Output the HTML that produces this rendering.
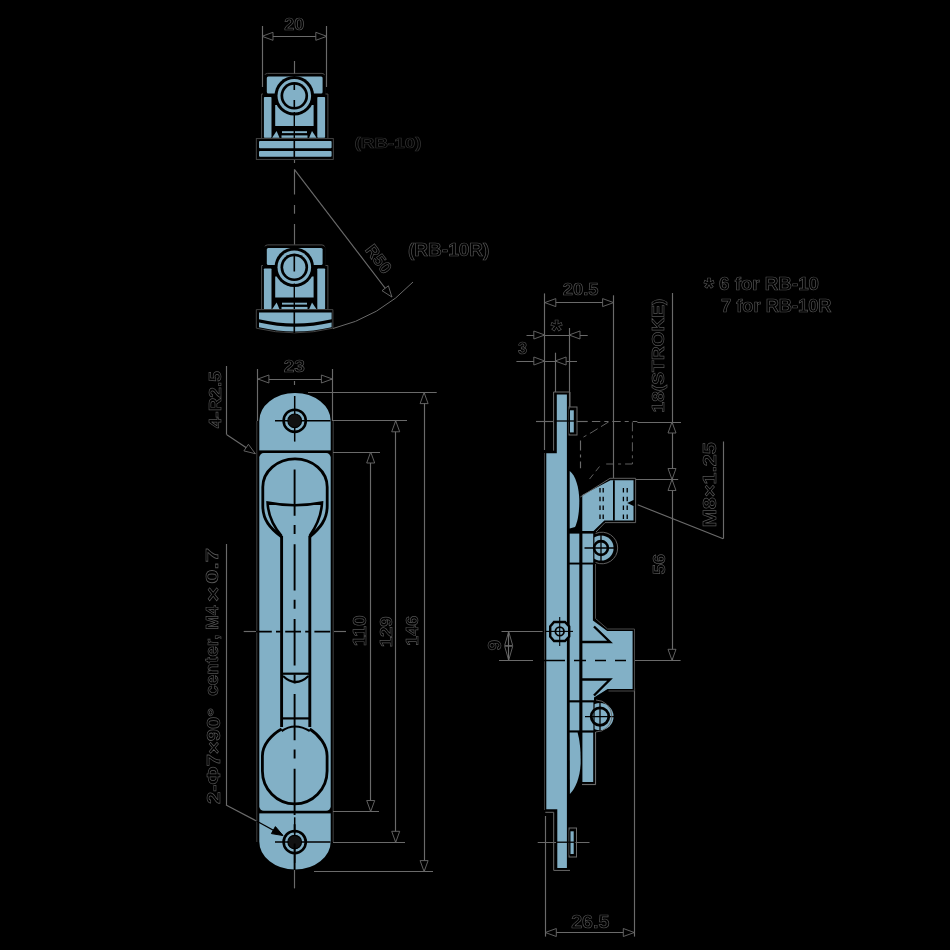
<!DOCTYPE html>
<html><head><meta charset="utf-8"><style>
html,body{margin:0;padding:0;background:#000;}
svg{display:block;will-change:transform;}
text{font-family:"Liberation Sans",sans-serif;} .t{font-weight:bold;fill:#000;stroke:#555;stroke-width:0.65px;}
</style></head><body>
<svg width="950" height="950" viewBox="0 0 950 950">
<rect width="950" height="950" fill="#000"/>
<path d="M261.6,138 V94 H264.7 V76 Q264.7,73.4 267.5,73.4 H322 Q324.7,73.4 324.7,76 V94 H327.9 V138" fill="none" stroke="#4a4a4a" stroke-width="1" />
<rect x="263" y="74.8" width="62.5" height="64" rx="2" fill="#000"/>
<rect x="266.8" y="76.6" width="55.8" height="17" rx="1.5" fill="#82b0c6"/>
<rect x="263.9" y="97" width="7.6" height="40.8" rx="0.8" fill="#82b0c6"/>
<rect x="317.3" y="97" width="7.8" height="40.8" rx="0.8" fill="#82b0c6"/>
<rect x="275.2" y="105" width="38.4" height="21" rx="0" fill="#82b0c6"/>
<polygon points="272.1,137.8 279.5,137.8 276.6,131" fill="#82b0c6"/>
<polygon points="309.1,137.8 316.5,137.8 312,131" fill="#82b0c6"/>
<rect x="282" y="131.2" width="25" height="1.9" rx="0" fill="#82b0c6"/>
<rect x="281.5" y="135.4" width="26" height="2.4" rx="0" fill="#82b0c6"/>
<circle cx="294.3" cy="95.8" r="19.8" fill="#000"/>
<circle cx="294.3" cy="95.8" r="16.8" fill="#82b0c6"/>
<circle cx="294.3" cy="95.8" r="13.8" fill="#000"/>
<circle cx="294.3" cy="95.8" r="11.1" fill="#82b0c6"/>
<line x1="294.3" y1="83" x2="294.3" y2="90" stroke="#000" stroke-width="1.6"/>
<line x1="294.3" y1="100" x2="294.3" y2="107" stroke="#000" stroke-width="1.6"/>
<line x1="294.3" y1="112" x2="294.3" y2="138" stroke="#000" stroke-width="1.4"/>
<rect x="256.3" y="138.6" width="77" height="20.8" rx="0" fill="#000" stroke="#4a4a4a" stroke-width="0.9"/>
<rect x="259" y="140.9" width="72.6" height="7.3" rx="1" fill="#82b0c6"/>
<rect x="259" y="150.9" width="72.6" height="5.8" rx="1" fill="#82b0c6"/>
<line x1="294.3" y1="139" x2="294.3" y2="158" stroke="#000" stroke-width="1.6"/>
<path d="M261.6,309.5 V265.5 H264.7 V247.5 Q264.7,244.9 267.5,244.9 H322 Q324.7,244.9 324.7,247.5 V265.5 H327.9 V309.5" fill="none" stroke="#4a4a4a" stroke-width="1" />
<rect x="263" y="246.3" width="62.5" height="64" rx="2" fill="#000"/>
<rect x="266.8" y="248.1" width="55.8" height="17" rx="1.5" fill="#82b0c6"/>
<rect x="263.9" y="268.5" width="7.6" height="40.8" rx="0.8" fill="#82b0c6"/>
<rect x="317.3" y="268.5" width="7.8" height="40.8" rx="0.8" fill="#82b0c6"/>
<rect x="275.2" y="276.5" width="38.4" height="21" rx="0" fill="#82b0c6"/>
<polygon points="272.1,309.3 279.5,309.3 276.6,302.5" fill="#82b0c6"/>
<polygon points="309.1,309.3 316.5,309.3 312,302.5" fill="#82b0c6"/>
<rect x="282" y="302.7" width="25" height="1.9" rx="0" fill="#82b0c6"/>
<rect x="281.5" y="306.9" width="26" height="2.4" rx="0" fill="#82b0c6"/>
<circle cx="294.3" cy="267.3" r="19.8" fill="#000"/>
<circle cx="294.3" cy="267.3" r="16.8" fill="#82b0c6"/>
<circle cx="294.3" cy="267.3" r="13.8" fill="#000"/>
<circle cx="294.3" cy="267.3" r="11.1" fill="#82b0c6"/>
<line x1="294.3" y1="255.5" x2="294.3" y2="271.5" stroke="#000" stroke-width="1.6"/>
<line x1="294.3" y1="283.5" x2="294.3" y2="309.5" stroke="#000" stroke-width="1.4"/>
<path d="M256.3,309.6 H332.9 V328.2 A163,163 0 0,1 256.3,328.2 Z" fill="#000" stroke="#4a4a4a" stroke-width="0.9" />
<path d="M259,312.4 H331.6 V319.2 Q295.3,327.6 259,319.2 Z" fill="#82b0c6" />
<path d="M259,322.6 Q295.3,331 331.6,322.6 V327.2 Q295.3,335.6 259,327.2 Z" fill="#82b0c6" />
<line x1="294.3" y1="310" x2="294.3" y2="333" stroke="#000" stroke-width="1.6"/>
<line x1="262.5" y1="26" x2="262.5" y2="87" stroke="#6a6a6a" stroke-width="1.15"/>
<line x1="326.5" y1="26" x2="326.5" y2="87" stroke="#6a6a6a" stroke-width="1.15"/>
<line x1="262" y1="36.5" x2="326.8" y2="36.5" stroke="#6a6a6a" stroke-width="1.15"/>
<polygon points="262.0,36.3 273.0,32.3 273.0,40.3" fill="#000" stroke="#6a6a6a" stroke-width="0.9"/>
<polygon points="326.8,36.3 315.8,40.3 315.8,32.3" fill="#000" stroke="#6a6a6a" stroke-width="0.9"/>
<line x1="294.5" y1="61" x2="294.5" y2="73.5" stroke="#6a6a6a" stroke-width="1.15"/>
<line x1="294.5" y1="160" x2="294.5" y2="163" stroke="#6a6a6a" stroke-width="1.15"/>
<line x1="294.5" y1="169.2" x2="294.5" y2="244.5" stroke="#6a6a6a" stroke-width="1.15" stroke-dasharray="25.3 10.5 8.7 10.3 40"/>
<line x1="294.7" y1="169.8" x2="391.9" y2="297" stroke="#6a6a6a" stroke-width="1.15"/>
<polygon points="391.9,297.0 382.0,290.7 388.4,285.8" fill="#000" stroke="#6a6a6a" stroke-width="0.9"/>
<path d="M413,282 A163,163 0 0,1 333,328.5" fill="none" stroke="#6a6a6a" stroke-width="1" />
<text x="0" y="0" font-size="17" text-anchor="middle" class="t" transform="translate(374,262.5) rotate(52.6)">R50</text>
<path d="M258.2,421 A36.6,29 0 0,1 331.8,421 V841.5 A36.6,29 0 0,1 258.2,841.5 Z" fill="#82b0c6" stroke="#000" stroke-width="2.2" />
<line x1="256.8" y1="421" x2="256.8" y2="842" stroke="#3e3e3e" stroke-width="1"/>
<line x1="333.2" y1="421" x2="333.2" y2="842" stroke="#3e3e3e" stroke-width="1"/>
<rect x="258.2" y="450.4" width="73.6" height="363" rx="0" fill="#000"/>
<rect x="259.3" y="453.1" width="71.4" height="357.6" rx="4.5" fill="#82b0c6"/>
<line x1="275" y1="420.8" x2="330.5" y2="420.8" stroke="#000" stroke-width="1.5"/>
<line x1="294.7" y1="396.0" x2="294.7" y2="441.6" stroke="#000" stroke-width="1.5"/>
<circle cx="294.7" cy="420.8" r="11.1" fill="none" stroke="#000" stroke-width="2.6"/>
<circle cx="294.7" cy="420.8" r="6.8" fill="#111" stroke="#000" stroke-width="1.2"/>
<line x1="275" y1="842.1" x2="330.5" y2="842.1" stroke="#000" stroke-width="1.5"/>
<line x1="294.7" y1="817.3000000000001" x2="294.7" y2="862.9" stroke="#000" stroke-width="1.5"/>
<circle cx="294.7" cy="842.1" r="11.1" fill="none" stroke="#000" stroke-width="2.6"/>
<circle cx="294.7" cy="842.1" r="6.8" fill="#111" stroke="#000" stroke-width="1.2"/>
<path d="M281.6,537 C270,528 262.8,520 262.8,506 V487 A32,28 0 0,1 327.2,487 V506 C327.2,520 320,528 309.6,537" fill="none" stroke="#000" stroke-width="2.8" />
<path d="M281.6,536 C274,527 268,516 267.6,502.5 Q294.7,508 322,502.5 C321.5,516 316,527 309.6,536" fill="none" stroke="#000" stroke-width="2.6" />
<line x1="281.6" y1="536" x2="281.6" y2="727" stroke="#000" stroke-width="2.9"/>
<line x1="309.8" y1="536" x2="309.8" y2="727" stroke="#000" stroke-width="2.9"/>
<line x1="281.6" y1="673.7" x2="309.8" y2="673.7" stroke="#000" stroke-width="2.2"/>
<path d="M283,676 Q295.7,688 308.5,676" fill="none" stroke="#000" stroke-width="2.2" />
<line x1="281.6" y1="718.4" x2="309.8" y2="718.4" stroke="#000" stroke-width="2.2"/>
<path d="M281.6,729 C271,735 262.4,745 262.4,756 V771 A32.35,33 0 0,0 327.1,771 V756 C327.1,745 319,735 309.8,729" fill="none" stroke="#000" stroke-width="2.8" />
<path d="M281.6,731 Q294.7,722 309.8,731" fill="none" stroke="#000" stroke-width="2.2" />
<line x1="294.6" y1="469.5" x2="294.6" y2="870" stroke="#000" stroke-width="1.9" stroke-dasharray="46.3 9.2 9 10.3"/>
<line x1="294.5" y1="870" x2="294.5" y2="888.4" stroke="#6a6a6a" stroke-width="1.15"/>
<line x1="294.5" y1="381" x2="294.5" y2="385" stroke="#6a6a6a" stroke-width="1.15"/>
<line x1="243.7" y1="631.5" x2="256" y2="631.5" stroke="#6a6a6a" stroke-width="1.15"/>
<line x1="256" y1="631.6" x2="334" y2="631.6" stroke="#000" stroke-width="1.6" stroke-dasharray="15.8 4.2 4.7 4.5"/>
<line x1="334" y1="631.5" x2="346" y2="631.5" stroke="#6a6a6a" stroke-width="1.15"/>
<line x1="257.5" y1="369" x2="257.5" y2="421" stroke="#6a6a6a" stroke-width="1.15"/>
<line x1="332.5" y1="369" x2="332.5" y2="421" stroke="#6a6a6a" stroke-width="1.15"/>
<line x1="257.9" y1="379.5" x2="332.4" y2="379.5" stroke="#6a6a6a" stroke-width="1.15"/>
<polygon points="257.9,379.0 268.9,375.0 268.9,383.0" fill="#000" stroke="#6a6a6a" stroke-width="0.9"/>
<polygon points="332.4,379.0 321.4,383.0 321.4,375.0" fill="#000" stroke="#6a6a6a" stroke-width="0.9"/>
<line x1="308" y1="392.5" x2="436.7" y2="392.5" stroke="#6a6a6a" stroke-width="1.15"/>
<line x1="333" y1="420.5" x2="407" y2="420.5" stroke="#6a6a6a" stroke-width="1.15"/>
<line x1="333" y1="452.5" x2="380" y2="452.5" stroke="#6a6a6a" stroke-width="1.15"/>
<line x1="333" y1="811.5" x2="379" y2="811.5" stroke="#6a6a6a" stroke-width="1.15"/>
<line x1="333" y1="842.5" x2="405" y2="842.5" stroke="#6a6a6a" stroke-width="1.15"/>
<line x1="314" y1="871.5" x2="433" y2="871.5" stroke="#6a6a6a" stroke-width="1.15"/>
<line x1="370.5" y1="452" x2="370.5" y2="811.5" stroke="#6a6a6a" stroke-width="1.15"/>
<polygon points="370.7,452.0 374.7,463.0 366.7,463.0" fill="#000" stroke="#6a6a6a" stroke-width="0.9"/>
<polygon points="370.7,811.5 366.7,800.5 374.7,800.5" fill="#000" stroke="#6a6a6a" stroke-width="0.9"/>
<line x1="395.5" y1="420.8" x2="395.5" y2="842.3" stroke="#6a6a6a" stroke-width="1.15"/>
<polygon points="395.7,420.8 399.7,431.8 391.7,431.8" fill="#000" stroke="#6a6a6a" stroke-width="0.9"/>
<polygon points="395.7,842.3 391.7,831.3 399.7,831.3" fill="#000" stroke="#6a6a6a" stroke-width="0.9"/>
<line x1="424.5" y1="392.6" x2="424.5" y2="871.6" stroke="#6a6a6a" stroke-width="1.15"/>
<polygon points="424.1,392.6 428.1,403.6 420.1,403.6" fill="#000" stroke="#6a6a6a" stroke-width="0.9"/>
<polygon points="424.1,871.6 420.1,860.6 428.1,860.6" fill="#000" stroke="#6a6a6a" stroke-width="0.9"/>
<line x1="226.5" y1="366" x2="226.5" y2="434.7" stroke="#6a6a6a" stroke-width="1.15"/>
<line x1="226.8" y1="434.7" x2="255.3" y2="453.7" stroke="#6a6a6a" stroke-width="1.15"/>
<polygon points="255.3,453.7 243.9,450.9 248.4,444.3" fill="#000" stroke="#6a6a6a" stroke-width="0.9"/>
<line x1="226.5" y1="544" x2="226.5" y2="805" stroke="#6a6a6a" stroke-width="1.15"/>
<line x1="226" y1="805" x2="256.5" y2="821" stroke="#6a6a6a" stroke-width="1.15"/>
<line x1="256.5" y1="821" x2="282" y2="835" stroke="#000" stroke-width="1.4"/>
<polygon points="283.0,835.5 271.4,833.6 275.4,826.6" fill="#000" stroke="#000" stroke-width="1"/>
<line x1="544.5" y1="293.4" x2="544.5" y2="450" stroke="#6a6a6a" stroke-width="1.15"/>
<line x1="613.5" y1="295.3" x2="613.5" y2="478" stroke="#6a6a6a" stroke-width="1.15"/>
<line x1="544.8" y1="302.5" x2="613.6" y2="302.5" stroke="#6a6a6a" stroke-width="1.15"/>
<polygon points="544.8,302.6 555.8,298.6 555.8,306.6" fill="#000" stroke="#6a6a6a" stroke-width="0.9"/>
<polygon points="613.6,302.6 602.6,306.6 602.6,298.6" fill="#000" stroke="#6a6a6a" stroke-width="0.9"/>
<line x1="526.5" y1="335.5" x2="587.7" y2="335.5" stroke="#6a6a6a" stroke-width="1.15"/>
<polygon points="544.8,335.0 533.8,339.0 533.8,331.0" fill="#000" stroke="#6a6a6a" stroke-width="0.9"/>
<polygon points="569.0,335.0 580.0,331.0 580.0,339.0" fill="#000" stroke="#6a6a6a" stroke-width="0.9"/>
<line x1="569.5" y1="328" x2="569.5" y2="407" stroke="#6a6a6a" stroke-width="1.15"/>
<line x1="516.4" y1="361.5" x2="577" y2="361.5" stroke="#6a6a6a" stroke-width="1.15"/>
<polygon points="544.8,361.0 533.8,365.0 533.8,357.0" fill="#000" stroke="#6a6a6a" stroke-width="0.9"/>
<polygon points="555.1,361.0 566.1,357.0 566.1,365.0" fill="#000" stroke="#6a6a6a" stroke-width="0.9"/>
<line x1="555.5" y1="352.7" x2="555.5" y2="392" stroke="#6a6a6a" stroke-width="1.15"/>
<line x1="536" y1="421.5" x2="553" y2="421.5" stroke="#6a6a6a" stroke-width="1.15"/>
<line x1="576.7" y1="421.5" x2="587.7" y2="421.5" stroke="#6a6a6a" stroke-width="1.15"/>
<line x1="591.9" y1="421.5" x2="637.4" y2="421.5" stroke="#6a6a6a" stroke-width="1.15" stroke-dasharray="8.4 4 4 4"/>
<line x1="637.4" y1="422.5" x2="681" y2="422.5" stroke="#6a6a6a" stroke-width="1.15"/>
<path d="M608.7,421.9 L591,432.8 L583.5,437" fill="none" stroke="#6a6a6a" stroke-width="0.9" stroke-dasharray="9 4"/>
<line x1="580.5" y1="440.4" x2="580.5" y2="468.2" stroke="#6a6a6a" stroke-width="1.15" stroke-dasharray="10 4 3 4"/>
<path d="M632.4,422.3 V464 H606.2" fill="none" stroke="#6a6a6a" stroke-width="0.9" stroke-dasharray="9 4 3 4"/>
<path d="M599.5,466.5 L588,481" fill="none" stroke="#6a6a6a" stroke-width="0.9" stroke-dasharray="6 4"/>
<line x1="672.5" y1="293" x2="672.5" y2="660.3" stroke="#6a6a6a" stroke-width="1.15"/>
<polygon points="672.0,422.0 676.0,433.0 668.0,433.0" fill="#000" stroke="#6a6a6a" stroke-width="0.9"/>
<polygon points="672.0,479.5 668.0,468.5 676.0,468.5" fill="#000" stroke="#6a6a6a" stroke-width="0.9"/>
<polygon points="672.0,479.5 676.0,490.5 668.0,490.5" fill="#000" stroke="#6a6a6a" stroke-width="0.9"/>
<polygon points="672.0,660.3 668.0,649.3 676.0,649.3" fill="#000" stroke="#6a6a6a" stroke-width="0.9"/>
<line x1="636" y1="479.5" x2="678.2" y2="479.5" stroke="#6a6a6a" stroke-width="1.15"/>
<line x1="723.5" y1="441.5" x2="723.5" y2="538.7" stroke="#6a6a6a" stroke-width="1.15"/>
<line x1="637.7" y1="504.8" x2="723.2" y2="538.7" stroke="#6a6a6a" stroke-width="1.15"/>
<line x1="501.5" y1="631.5" x2="542.6" y2="631.5" stroke="#6a6a6a" stroke-width="1.15"/>
<line x1="499" y1="660.5" x2="533" y2="660.5" stroke="#6a6a6a" stroke-width="1.15"/>
<polygon points="508.7,631.5 512.7,645.5 504.7,645.5" fill="#000" stroke="#6a6a6a" stroke-width="0.9"/>
<polygon points="508.7,660.3 504.7,646.3 512.7,646.3" fill="#000" stroke="#6a6a6a" stroke-width="0.9"/>
<line x1="508.5" y1="631.5" x2="508.5" y2="660.3" stroke="#6a6a6a" stroke-width="1.15"/>
<line x1="634.6" y1="660.5" x2="680.6" y2="660.5" stroke="#6a6a6a" stroke-width="1.15"/>
<line x1="545.5" y1="816" x2="545.5" y2="936.6" stroke="#6a6a6a" stroke-width="1.15"/>
<line x1="634.5" y1="688" x2="634.5" y2="936.6" stroke="#6a6a6a" stroke-width="1.15"/>
<line x1="545.3" y1="932.5" x2="634.3" y2="932.5" stroke="#6a6a6a" stroke-width="1.15"/>
<polygon points="545.3,932.5 556.3,928.5 556.3,936.5" fill="#000" stroke="#6a6a6a" stroke-width="0.9"/>
<polygon points="634.3,932.5 623.3,936.5 623.3,928.5" fill="#000" stroke="#6a6a6a" stroke-width="0.9"/>
<line x1="537.7" y1="842.5" x2="589.5" y2="842.5" stroke="#6a6a6a" stroke-width="1.15"/>
<path d="M553.6,450.7 V392 H570 V407" fill="none" stroke="#6a6a6a" stroke-width="1" />
<path d="M545.3,812.3 H553.7 V870.4 H570" fill="none" stroke="#6a6a6a" stroke-width="1" />
<rect x="569" y="407" width="8" height="28" rx="0" fill="none" stroke="#6a6a6a" stroke-width="1"/>
<rect x="569" y="828" width="7.5" height="29" rx="0" fill="none" stroke="#6a6a6a" stroke-width="1"/>
<line x1="595.5" y1="732" x2="595.5" y2="784.5" stroke="#6a6a6a" stroke-width="1.15"/>
<line x1="582" y1="784.5" x2="595.8" y2="784.5" stroke="#6a6a6a" stroke-width="1.15"/>
<path d="M569.7,533.6 H579.3 V562.6 H569.7 Z" fill="#82b0c6" stroke="#000" stroke-width="2.4" paint-order="stroke" stroke-linejoin="miter"/>
<path d="M569.7,564.6 H579.3 V700.2 H569.7 Z" fill="#82b0c6" stroke="#000" stroke-width="2.4" paint-order="stroke" stroke-linejoin="miter"/>
<path d="M569.7,702.4 H579.3 V730.4 H569.7 Z" fill="#82b0c6" stroke="#000" stroke-width="2.4" paint-order="stroke" stroke-linejoin="miter"/>
<path d="M569.7,732.6 H577.6 C580.2,742 580.8,752 580.6,764 C580,778 575,789 569.9,794 Z" fill="#82b0c6" stroke="#000" stroke-width="2.4" paint-order="stroke" stroke-linejoin="miter"/>
<path d="M569.7,471 C575.5,475 579.3,488 579.3,501 C579.3,513 577.6,522 575,527 L569.7,528.5 Z" fill="#82b0c6" stroke="#000" stroke-width="2.4" paint-order="stroke" stroke-linejoin="miter"/>
<circle cx="601" cy="548" r="12.6" fill="#82b0c6" stroke="#000" stroke-width="2" paint-order="stroke"/>
<circle cx="600" cy="716.6" r="13.6" fill="#82b0c6" stroke="#000" stroke-width="2" paint-order="stroke"/>
<path d="M582.4,533.6 H593.2 V562.6 H582.4 Z" fill="#82b0c6" stroke="#000" stroke-width="2.4" paint-order="stroke" stroke-linejoin="miter"/>
<path d="M582.4,564.6 H592.9 V620.5 L607.2,631 H632.6 V689 H607.6 L594,697.6 V700.2 H582.4 Z" fill="#82b0c6" stroke="#000" stroke-width="2.4" paint-order="stroke" stroke-linejoin="miter"/>
<path d="M595.5,564 V618.5 L607.5,629 H634.5 V691 H608.5" fill="none" stroke="#4a4a4a" stroke-width="1" />
<path d="M582.4,702.4 H593.4 V730.4 H582.4 Z" fill="#82b0c6" stroke="#000" stroke-width="2.4" paint-order="stroke" stroke-linejoin="miter"/>
<path d="M582.4,732.6 H593.2 V782 H582.4 Z" fill="#82b0c6" stroke="#000" stroke-width="2.4" paint-order="stroke" stroke-linejoin="miter"/>
<circle cx="601" cy="548" r="6.9" fill="none" stroke="#000" stroke-width="2.6"/>
<circle cx="600" cy="716.6" r="8.799999999999999" fill="none" stroke="#000" stroke-width="2.8"/>
<line x1="584.5" y1="548" x2="618.6" y2="548" stroke="#000" stroke-width="1.3"/>
<line x1="601" y1="534.5" x2="601" y2="566.7" stroke="#000" stroke-width="1.3"/>
<line x1="585" y1="716.6" x2="619" y2="716.6" stroke="#000" stroke-width="1.3"/>
<line x1="600" y1="702" x2="600" y2="732" stroke="#000" stroke-width="1.3"/>
<path d="M594,626.5 L610,642 H582" fill="none" stroke="#000" stroke-width="2.4" />
<path d="M582,679.5 H610 L594,695.5" fill="none" stroke="#000" stroke-width="2.4" />
<path d="M582.3,495 L610.5,480.2 H633.5 V500 L627.2,503 L633.5,506 V520.6 H604.4 L593.5,531 H582.3 Z" fill="#82b0c6" stroke="#000" stroke-width="2.4" paint-order="stroke" stroke-linejoin="miter"/>
<path d="M580.3,497 L610,478.3 H635.6 V522.6 H605 L596,532" fill="none" stroke="#6a6a6a" stroke-width="0.9" />
<line x1="613.9" y1="480.2" x2="613.9" y2="520.6" stroke="#000" stroke-width="1.8"/>
<line x1="600" y1="488" x2="600" y2="521" stroke="#000" stroke-width="1.3" stroke-dasharray="4.5 4.3"/>
<line x1="603.2" y1="488" x2="603.2" y2="521" stroke="#000" stroke-width="1.3" stroke-dasharray="4.5 4.3"/>
<line x1="623.4" y1="488" x2="623.4" y2="521" stroke="#000" stroke-width="1.3" stroke-dasharray="4.5 4.3"/>
<line x1="627.2" y1="488" x2="627.2" y2="521" stroke="#000" stroke-width="1.3" stroke-dasharray="4.5 4.3"/>
<path d="M595.6,533.5 A15.8,15.8 0 1,1 595.6,562.5" fill="none" stroke="#6a6a6a" stroke-width="0.9" />
<path d="M596,700 A15.8,15.8 0 1,1 595.6,732" fill="none" stroke="#6a6a6a" stroke-width="0.9" />
<path d="M556.8,394.5 H566.9 V868 H557.3 V809.2 H546.3 V453.3 H556.8 Z" fill="#82b0c6" stroke="#000" stroke-width="2.4" paint-order="stroke" stroke-linejoin="miter"/>
<line x1="544.5" y1="453" x2="544.5" y2="810" stroke="#3a3a3a" stroke-width="1"/>
<path d="M570,410.3 H573.8 V432.4 H570 Z" fill="#82b0c6" stroke="#000" stroke-width="2.2" paint-order="stroke" stroke-linejoin="miter"/>
<path d="M570.5,831.3 H573.7 V854 H570.5 Z" fill="#82b0c6" stroke="#000" stroke-width="2.2" paint-order="stroke" stroke-linejoin="miter"/>
<line x1="555" y1="421" x2="575.5" y2="421" stroke="#000" stroke-width="1.3"/>
<line x1="556" y1="842.2" x2="575.5" y2="842.2" stroke="#000" stroke-width="1.3"/>
<line x1="533" y1="660.5" x2="606" y2="660.5" stroke="#000" stroke-width="1.6" stroke-dasharray="32 9 12 9"/>
<line x1="606" y1="660.5" x2="631" y2="660.5" stroke="#000" stroke-width="1.6" stroke-dasharray="0 9 11 100"/>
<polygon points="554,622 565,622 569.2,626.5 569.2,636.5 565,641 554,641 550.2,636.5 550.2,626.5" fill="#82b0c6" stroke="#000" stroke-width="2.4"/>
<circle cx="559.7" cy="631.4" r="4.3" fill="none" stroke="#000" stroke-width="1.8"/>
<line x1="546" y1="631.4" x2="573" y2="631.4" stroke="#000" stroke-width="1.1"/>
<line x1="559.7" y1="617" x2="559.7" y2="646" stroke="#000" stroke-width="1.1"/>
<text x="294.2" y="30.2" font-size="15.79" text-anchor="middle" class="t" opacity="0.99" textLength="20.0" lengthAdjust="spacingAndGlyphs">20</text>
<text x="294.35" y="372.35" font-size="16.35" text-anchor="middle" class="t" opacity="0.99" textLength="21.2" lengthAdjust="spacingAndGlyphs">23</text>
<text x="388.0" y="147.6" font-size="14.32" text-anchor="middle" class="t" opacity="0.55" textLength="67.0" lengthAdjust="spacingAndGlyphs">(RB-10)</text>
<text x="448.7" y="256.2" font-size="17.88" text-anchor="middle" class="t" opacity="0.99" textLength="81.4" lengthAdjust="spacingAndGlyphs">(RB-10R)</text>
<text x="221.0" y="399.75" font-size="16.55" text-anchor="middle" class="t" opacity="0.99" transform="rotate(-90 221.0 399.75)" textLength="57.0" lengthAdjust="spacingAndGlyphs">4-R2.5</text>
<text x="219.5" y="756.0" font-size="17.5" text-anchor="middle" class="t" opacity="0.99" transform="rotate(-90 219.5 756.0)" textLength="96.0" lengthAdjust="spacingAndGlyphs">2-&#934;7&#215;90&#176;</text>
<text x="218.25" y="665.3" font-size="18.5" text-anchor="middle" class="t" opacity="0.99" transform="rotate(-90 218.25 665.3)" textLength="61.6" lengthAdjust="spacingAndGlyphs">center,</text>
<text x="218.5" y="617.65" font-size="16.55" text-anchor="middle" class="t" opacity="0.99" transform="rotate(-90 218.5 617.65)" textLength="24.2" lengthAdjust="spacingAndGlyphs">M4</text>
<text x="220.0" y="594.3" font-size="20.73" text-anchor="middle" class="t" opacity="0.99" transform="rotate(-90 220.0 594.3)" textLength="15.4" lengthAdjust="spacingAndGlyphs">&#215;</text>
<text x="218.5" y="565.85" font-size="16.55" text-anchor="middle" class="t" opacity="0.99" transform="rotate(-90 218.5 565.85)" textLength="35.8" lengthAdjust="spacingAndGlyphs">0.7</text>
<text x="366.0" y="630.8" font-size="19.0" text-anchor="middle" class="t" opacity="0.99" transform="rotate(-90 366.0 630.8)" textLength="31.0" lengthAdjust="spacingAndGlyphs">110</text>
<text x="392.0" y="631.8" font-size="16.55" text-anchor="middle" class="t" opacity="0.99" transform="rotate(-90 392.0 631.8)" textLength="31.0" lengthAdjust="spacingAndGlyphs">129</text>
<text x="417.85" y="630.8" font-size="16.81" text-anchor="middle" class="t" opacity="0.99" transform="rotate(-90 417.85 630.8)" textLength="30.0" lengthAdjust="spacingAndGlyphs">146</text>
<text x="580.65" y="295.35" font-size="16.81" text-anchor="middle" class="t" opacity="0.99" textLength="35.8" lengthAdjust="spacingAndGlyphs">20.5</text>
<text x="556.5" y="340.0" font-size="29.73" text-anchor="middle" class="t" opacity="0.99">*</text>
<text x="522.5" y="354.0" font-size="16.35" text-anchor="middle" class="t" opacity="0.99">3</text>
<text x="708.85" y="296.7" font-size="26.79" text-anchor="middle" class="t" opacity="0.99">*</text>
<text x="769.0" y="289.65" font-size="17.52" text-anchor="middle" class="t" opacity="0.99" textLength="100.0" lengthAdjust="spacingAndGlyphs">6 for RB-10</text>
<text x="776.3" y="311.75" font-size="17.52" text-anchor="middle" class="t" opacity="0.99" textLength="110.4" lengthAdjust="spacingAndGlyphs">7 for RB-10R</text>
<text x="664.0" y="355.5" font-size="17.0" text-anchor="middle" class="t" opacity="0.99" transform="rotate(-90 664.0 355.5)" textLength="114.0" lengthAdjust="spacingAndGlyphs">18(STROKE)</text>
<text x="716.4" y="484.7" font-size="18.01" text-anchor="middle" class="t" opacity="0.99" transform="rotate(-90 716.4 484.7)" textLength="85.0" lengthAdjust="spacingAndGlyphs">M8&#215;1.25</text>
<text x="665.4" y="564.15" font-size="16.35" text-anchor="middle" class="t" opacity="0.99" transform="rotate(-90 665.4 564.15)" textLength="20.8" lengthAdjust="spacingAndGlyphs">56</text>
<text x="500.5" y="645.25" font-size="19.0" text-anchor="middle" class="t" opacity="0.99" transform="rotate(-90 500.5 645.25)">9</text>
<text x="590.25" y="928.05" font-size="19.04" text-anchor="middle" class="t" opacity="0.99" textLength="38.2" lengthAdjust="spacingAndGlyphs">26.5</text>
</svg></body></html>
